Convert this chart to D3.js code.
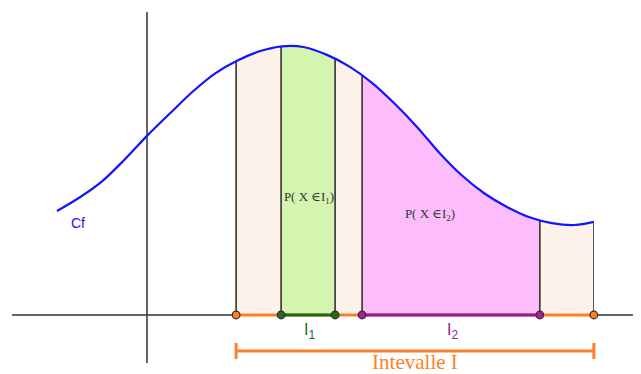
<!DOCTYPE html>
<html>
<head>
<meta charset="utf-8">
<script src="https://cdn.jsdelivr.net/npm/d3@7"></script>
<style>
  body { margin: 0; background: #fff; }
</style>
</head>
<body>
<div id="chart"></div>
<script>
// density curve Cf
const curveX = [-2.0, -1.5, -1.0, -0.5, 0, 0.5, 1.0, 1.5, 2.0, 2.5, 3.0, 3.5, 4.0, 4.5, 5.0, 5.5, 6.0, 6.5, 7.0, 7.5, 8.0, 8.5, 9.0, 9.5, 9.93];
const curveY = [2.31, 2.61, 2.97, 3.45, 3.98, 4.47, 4.95, 5.36, 5.65, 5.86, 5.97, 5.95, 5.78, 5.52, 5.16, 4.7, 4.18, 3.6, 3.1, 2.7, 2.4, 2.17, 2.04, 2.0, 2.07];

// intervals on the x axis
const intervalNames = ["I", "I1", "I2"];
const intervalStart = [1.98, 2.98, 4.78];
const intervalEnd = [9.93, 4.18, 8.73];
const intervalFill = ["#fdf2ea", "#d3f5b0", "#fdbdfd"];
const intervalColor = ["#ff7f27", "#1a6b1a", "#9a1a9a"];
const pointFill = ["#ff7f27", "#1e6e1e", "#a0229a"];

const width = 641, height = 374;

const svg = d3.select("#chart")
  .append("svg")
  .attr("width", width)
  .attr("height", height);

const x = d3.scaleLinear().domain([-3, 10.8]).range([12, 633]);
const y = d3.scaleLinear().domain([-1.067, 6.733]).range([363, 12]);

const pts = curveX.map((d, i) => [d, curveY[i]]);

const line = d3.line()
  .x(d => x(d[0]))
  .y(d => y(d[1]))
  .curve(d3.curveCatmullRom);

const area = d3.area()
  .x(d => x(d[0]))
  .y0(y(0))
  .y1(d => y(d[1]))
  .curve(d3.curveCatmullRom);

svg.append("clipPath")
  .attr("id", "under")
  .append("path")
  .attr("d", area(pts));

const shade = svg.append("g").attr("clip-path", "url(#under)");

// filled regions, biggest first
shade.selectAll("rect")
  .data(intervalNames)
  .enter().append("rect")
  .attr("x", (d, i) => x(intervalStart[i]))
  .attr("y", 0)
  .attr("width", (d, i) => x(intervalEnd[i]) - x(intervalStart[i]))
  .attr("height", y(0))
  .attr("fill", (d, i) => intervalFill[i]);

// vertical lines at the bounds
const bounds = [];
intervalNames.forEach((d, i) => { bounds.push(intervalStart[i], intervalEnd[i]); });
shade.selectAll("line")
  .data(bounds)
  .enter().append("line")
  .attr("x1", d => x(d)).attr("x2", d => x(d))
  .attr("y1", 0).attr("y2", y(0))
  .attr("stroke", "#333")
  .attr("stroke-width", 1.6);

// axes
svg.append("line")
  .attr("x1", x(-3)).attr("x2", x(10.8))
  .attr("y1", y(0)).attr("y2", y(0))
  .attr("stroke", "#333").attr("stroke-width", 1.5);
svg.append("line")
  .attr("x1", x(0)).attr("x2", x(0))
  .attr("y1", y(6.733)).attr("y2", y(-1.067))
  .attr("stroke", "#333").attr("stroke-width", 1.5);

// curve
svg.append("path")
  .attr("d", line(pts))
  .attr("fill", "none")
  .attr("stroke", "#1414ff")
  .attr("stroke-width", 2.2);

// interval segments on the axis
svg.selectAll("line.seg")
  .data(intervalNames)
  .enter().append("line")
  .attr("class", "seg")
  .attr("x1", (d, i) => x(intervalStart[i]))
  .attr("x2", (d, i) => x(intervalEnd[i]))
  .attr("y1", y(0)).attr("y2", y(0))
  .attr("stroke", (d, i) => intervalColor[i])
  .attr("stroke-width", 3);

// end points
const dots = [];
intervalNames.forEach((d, i) => {
  dots.push({ v: intervalStart[i], c: pointFill[i] });
  dots.push({ v: intervalEnd[i], c: pointFill[i] });
});
svg.selectAll("circle")
  .data(dots)
  .enter().append("circle")
  .attr("cx", d => x(d.v))
  .attr("cy", y(0))
  .attr("r", 3.8)
  .attr("fill", d => d.c)
  .attr("stroke", "#3a2a2a")
  .attr("stroke-width", 1.2);

// bracket for I
const by = 351;
const br = svg.append("g").attr("stroke", intervalColor[0]).attr("stroke-width", 3);
br.append("line").attr("x1", x(intervalStart[0])).attr("x2", x(intervalEnd[0])).attr("y1", by).attr("y2", by);
br.append("line").attr("x1", x(intervalStart[0])).attr("x2", x(intervalStart[0])).attr("y1", by - 8).attr("y2", by + 8);
br.append("line").attr("x1", x(intervalEnd[0])).attr("x2", x(intervalEnd[0])).attr("y1", by - 8).attr("y2", by + 8);

svg.append("text")
  .attr("x", (x(intervalStart[0]) + x(intervalEnd[0])) / 2)
  .attr("y", 369)
  .attr("text-anchor", "middle")
  .attr("fill", intervalColor[0])
  .style("font-family", "'Liberation Serif', 'DejaVu Serif', serif")
  .style("font-size", "21px")
  .text("Intevalle I");

// I1, I2 labels under the axis
[1, 2].forEach(i => {
  const t = svg.append("text")
    .attr("x", (x(intervalStart[i]) + x(intervalEnd[i])) / 2 - 4)
    .attr("y", 335)
    .attr("fill", intervalColor[i])
    .style("font-family", "'Liberation Sans', Arial, sans-serif")
    .style("font-size", "16px");
  t.append("tspan").text("I");
  t.append("tspan").attr("dy", 4).style("font-size", "12px").text(i);
});

// probability labels
const probPos = [[1, 309, 201], [2, 430, 218]];
probPos.forEach(([i, px, py]) => {
  const t = svg.append("text")
    .attr("x", px).attr("y", py)
    .attr("text-anchor", "middle")
    .attr("fill", "#333")
    .style("font-family", "'Liberation Serif', 'DejaVu Serif', serif")
    .style("font-size", "13px");
  t.append("tspan").text("P( X ∈I");
  t.append("tspan").attr("dy", 3).style("font-size", "9px").text(i);
  t.append("tspan").attr("dy", -3).text(")");
});

// curve name
svg.append("text")
  .attr("x", 71).attr("y", 228)
  .attr("fill", "#1414ff")
  .style("font-family", "'Liberation Sans', Arial, sans-serif")
  .style("font-size", "14px")
  .text("Cf");
</script>
</body>
</html>
